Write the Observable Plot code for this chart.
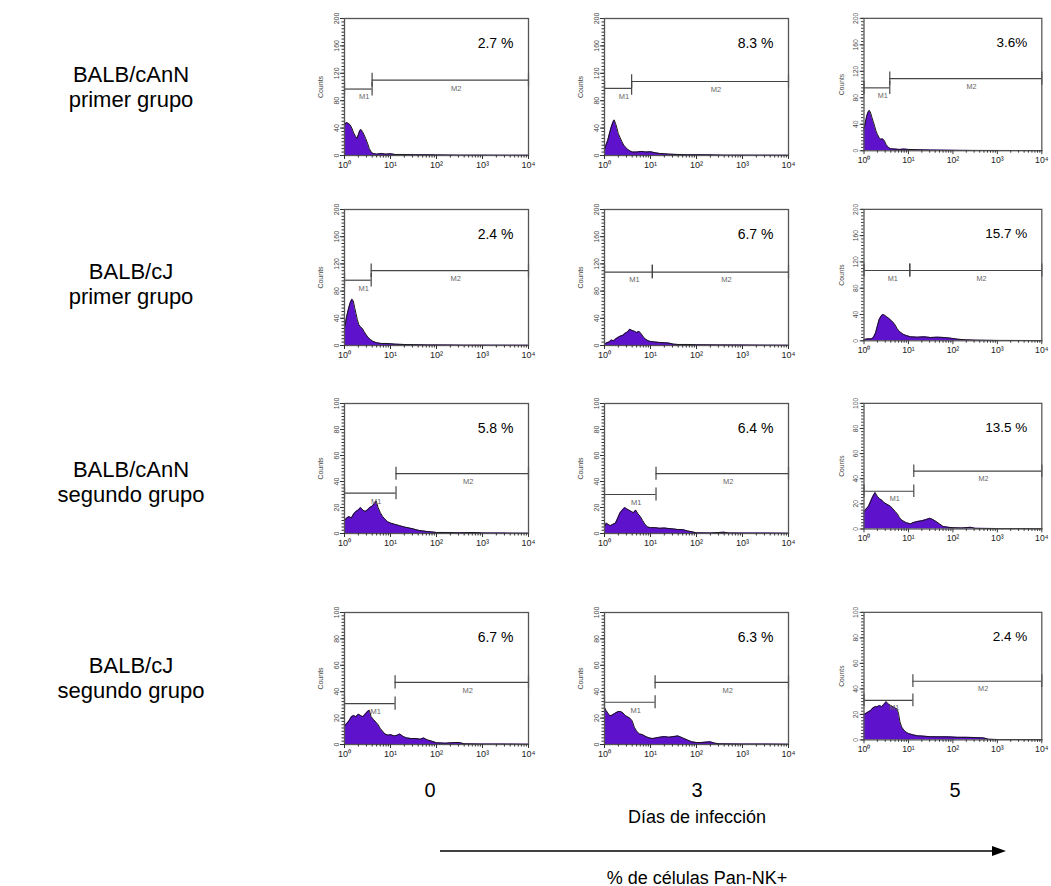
<!DOCTYPE html>
<html><head><meta charset="utf-8">
<script src="https://cdn.jsdelivr.net/npm/d3@7"></script>
<script src="https://cdn.jsdelivr.net/npm/@observablehq/plot@0.6"></script>
<style>
body{margin:0;background:#fff;font-family:Arial,"Liberation Sans",sans-serif;}
#fig{position:relative;width:1051px;height:886px;overflow:hidden;background:#fff;}
.lab{position:absolute;text-align:center;color:#000;white-space:nowrap;transform:translate(-50%,-50%);}
.panel{position:absolute;}
</style></head><body><div id="fig"></div>
<script>
// ---------- data ----------
const rowLabels = [["BALB/cAnN","primer grupo"],["BALB/cJ","primer grupo"],["BALB/cAnN","segundo grupo"],["BALB/cJ","segundo grupo"]];
const dayLabels = ["0","3","5"];
const xAxisTitle = "Días de infección";
const arrowTitle = "% de células Pan-NK+";
const yMax = [200,200,100,100];
const yTicks = [[0,40,80,120,160,200],[0,40,80,120,160,200],[0,20,40,60,80,100],[0,20,40,60,80,100]];
const xTickDecades = [0,1,2,3,4];
const xTickLabels = ["10⁰","10¹","10²","10³","10⁴"];
const yLabel = "Counts";
const percents = [["2.7 %","8.3 %","3.6%"],["2.4 %","6.7 %","15.7 %"],["5.8 %","6.4 %","13.5 %"],["6.7 %","6.3 %","2.4 %"]];
const gateSplit = [[0.60,0.59,0.58],[0.58,1.04,1.03],[1.12,1.12,1.12],[1.10,1.10,1.10]];
const gateM1Y = [[97,98,95],[96,108,107],[31,30,30],[31,32,31]];
const gateM2Y = [[110,108,109],[110,108,107],[46,46,46],[47,47,46]];

// histograms: [log10 fluorescence, counts]
const hist_r1c1 = [[0,44],[0.04,48],[0.08,47],[0.12,45],[0.16,40],[0.2,33],[0.24,28],[0.27,25],[0.3,30],[0.33,36],[0.36,38],[0.39,35],[0.42,31],[0.46,25],[0.5,18],[0.54,10],[0.58,5],[0.62,3],[0.7,2],[0.8,3],[0.9,2],[1,2.5],[1.1,1.5],[1.3,1.5],[1.5,1],[1.8,1],[2,0.8],[2.5,0.5],[3,0.5],[3.5,0.3],[4,0.3]];
const hist_r1c2 = [[0,8],[0.03,15],[0.07,22],[0.1,30],[0.14,40],[0.18,48],[0.21,52],[0.24,47],[0.27,40],[0.3,32],[0.34,26],[0.38,20],[0.42,15],[0.46,12],[0.5,9],[0.55,7],[0.6,5],[0.7,5],[0.8,6],[0.9,5],[1,5.5],[1.1,4],[1.2,3],[1.3,2.5],[1.4,2],[1.6,1.5],[1.8,1],[2.2,1],[2.6,0.5],[3,0.5],[3.5,0.4],[4,0.3]];
const hist_r1c3 = [[0,33],[0.03,42],[0.06,52],[0.09,58],[0.12,61],[0.15,57],[0.18,50],[0.21,44],[0.24,37],[0.27,30],[0.3,25],[0.34,20],[0.38,17],[0.42,18],[0.46,15],[0.5,9],[0.55,5],[0.6,3],[0.7,2.5],[0.8,2],[0.9,2.5],[1,2],[1.2,1.5],[1.5,1],[2,0.6],[2.5,0.5],[3,0.4],[4,0.3]];
const hist_r2c1 = [[0,25],[0.04,40],[0.08,52],[0.12,62],[0.16,68],[0.19,66],[0.22,56],[0.25,47],[0.28,38],[0.31,31],[0.35,27],[0.39,25],[0.43,20],[0.47,16],[0.51,12],[0.56,9],[0.62,6],[0.7,4],[0.8,3],[0.9,3],[1,2.5],[1.1,2],[1.3,1.5],[1.5,1.2],[1.8,0.8],[2.2,0.7],[2.6,0.5],[3,0.5],[3.5,0.4],[4,0.3]];
const hist_r2c2 = [[0,2],[0.05,4],[0.1,5],[0.15,8],[0.2,7],[0.25,10],[0.3,12],[0.35,14],[0.4,15],[0.45,18],[0.5,20],[0.55,24],[0.6,22],[0.65,21],[0.7,19],[0.75,21],[0.8,17],[0.85,12],[0.9,9],[0.95,7],[1,6],[1.1,5],[1.2,4.5],[1.3,4],[1.4,3.5],[1.5,2],[1.6,1.5],[1.8,1.5],[2,1],[2.5,0.8],[3,0.6],[3.5,0.5],[4,0.3]];
const hist_r2c3 = [[0,2],[0.1,3],[0.18,3],[0.22,6],[0.26,12],[0.3,22],[0.34,32],[0.38,37],[0.42,40],[0.46,39],[0.5,37],[0.54,35],[0.58,33],[0.62,30],[0.66,28],[0.7,24],[0.75,18],[0.8,14],[0.88,10],[0.95,8],[1.05,6],[1.2,5.5],[1.35,6],[1.5,5],[1.65,5.5],[1.8,5],[1.95,4],[2.1,2.5],[2.25,1.5],[2.5,1],[3,0.6],[3.5,0.5],[4,0.3]];
const hist_r3c1 = [[0,10],[0.05,12],[0.1,13],[0.15,12],[0.2,15],[0.25,17],[0.3,18],[0.35,20],[0.4,18],[0.45,17],[0.5,18],[0.55,20],[0.6,21],[0.65,23],[0.69,25],[0.73,20],[0.78,16],[0.83,13],[0.88,11],[0.94,9],[1,8],[1.1,7],[1.2,6],[1.3,5],[1.4,4.3],[1.5,3.5],[1.6,2.5],[1.7,2],[1.8,1.5],[1.9,1.2],[2,0.8],[2.2,0.8],[2.5,0.5],[2.8,0.8],[3,0.4],[3.5,0.3],[4,0.2]];
const hist_r3c2 = [[0,5],[0.04,8],[0.08,7],[0.13,6],[0.18,7],[0.24,8],[0.29,12],[0.34,16],[0.39,18],[0.44,20],[0.48,19],[0.53,18],[0.58,17],[0.63,16],[0.68,18],[0.73,15],[0.78,13],[0.83,10],[0.88,7],[0.94,5],[1,4.5],[1.1,4.5],[1.2,4],[1.3,4.2],[1.4,3.8],[1.5,3.5],[1.6,3],[1.7,3],[1.8,2],[1.9,1.3],[2,0.5],[2.3,0.4],[2.6,1],[2.7,0.4],[3,0.3],[3.5,0.3],[4,0.2]];
const hist_r3c3 = [[0,14],[0.05,16],[0.1,18],[0.15,22],[0.2,26],[0.25,29],[0.3,26],[0.35,24],[0.4,23],[0.45,21],[0.5,20],[0.55,19],[0.6,18],[0.65,16],[0.7,14],[0.75,12],[0.8,9],[0.85,7],[0.9,6],[0.95,5],[1,4.5],[1.05,4],[1.1,5],[1.2,6],[1.3,6.5],[1.4,7.5],[1.48,8.5],[1.55,7.5],[1.62,6],[1.7,4],[1.78,2],[1.9,1.3],[2,1],[2.2,0.8],[2.4,1.3],[2.5,0.5],[3,0.3],[3.5,0.3],[4,0.2]];
const hist_r4c1 = [[0,14],[0.05,16],[0.1,18],[0.15,21],[0.2,22],[0.25,21],[0.3,23],[0.35,22],[0.4,21],[0.45,23],[0.5,25],[0.54,26],[0.58,21],[0.63,19],[0.68,17],[0.73,15],[0.78,12],[0.83,10],[0.88,8],[0.95,7],[1,7.5],[1.08,6.5],[1.15,7],[1.2,8],[1.28,6],[1.35,5],[1.45,4.5],[1.55,4.5],[1.65,4],[1.72,5],[1.8,3.5],[1.9,2.5],[2,1.3],[2.2,1],[2.4,1.5],[2.5,1.5],[2.6,0.5],[3,0.3],[3.5,0.3],[4,0.2]];
const hist_r4c2 = [[0,28],[0.03,26],[0.07,24],[0.11,22],[0.15,22],[0.2,23],[0.25,24],[0.3,25],[0.35,25],[0.4,24],[0.45,22],[0.5,21],[0.55,20],[0.6,18],[0.65,13],[0.7,10],[0.76,8],[0.82,7.5],[0.9,6],[0.97,5],[1.05,4.5],[1.12,5],[1.2,5.5],[1.3,6],[1.4,5.5],[1.5,6],[1.6,6.5],[1.7,5],[1.8,3.5],[1.9,2],[2,1.5],[2.1,1.5],[2.3,2],[2.4,1],[2.5,0.5],[3,0.3],[3.5,0.3],[4,0.2]];
const hist_r4c3 = [[0,20],[0.05,21],[0.1,22],[0.15,23],[0.2,25],[0.25,26],[0.3,26],[0.35,27],[0.4,26],[0.45,28],[0.5,30],[0.55,28],[0.6,27],[0.65,26],[0.7,25],[0.75,24],[0.78,20],[0.81,14],[0.85,10],[0.9,7.5],[0.95,6],[1,5],[1.1,4],[1.2,3.2],[1.3,3],[1.5,2.5],[1.7,2.4],[1.9,2.4],[2.1,2],[2.3,2],[2.5,1.8],[2.7,1.5],[2.8,0.5],[3,0.3],[3.5,0.3],[4,0.2]];
const hists = [[hist_r1c1,hist_r1c2,hist_r1c3],[hist_r2c1,hist_r2c2,hist_r2c3],[hist_r3c1,hist_r3c2,hist_r3c3],[hist_r4c1,hist_r4c2,hist_r4c3]];

// ---------- layout ----------
const colLeft = [344, 604, 865];
const rowTop = [18, 209, 403, 612];
const frameW = 184;
const frameH = [137, 136, 130, 132];
const ML = 44, MR = 10, MT = 4, MB = 24;
const fig = document.getElementById("fig");

const minorX = [];
for (let n = 0; n < 4; n++) for (let k = 2; k <= 9; k++) minorX.push(n + Math.log10(k));

function panel(r, c) {
  const ymax = yMax[r];
  const data = hists[r][c].map(([d, n]) => ({d, n}));
  const s = gateSplit[r][c], g1 = gateM1Y[r][c], g2 = gateM2Y[r][c];
  const th = ymax * 0.05;
  const gates = [{x1: 0, x2: s, y: g1, name: "M1"}, {x1: s, x2: 4, y: g2, name: "M2"}];
  const gateTicks = [{x: 0, y: g1}, {x: s, y: g1}, {x: s, y: g2}, {x: 4, y: g2}];
  const minorY = d3.range(0, ymax + 1e-6, ymax / 40);
  const W = frameW + ML + MR, H = frameH[r] + MT + MB;
  return Plot.plot({
    width: W, height: H, marginLeft: ML, marginRight: MR, marginTop: MT, marginBottom: MB,
    x: {domain: [0, 4]}, y: {domain: [0, ymax]},
    style: {fontFamily: "Arial, 'Liberation Sans', sans-serif", background: "transparent", overflow: "visible"},
    marks: [
      Plot.areaY(data, {x: "d", y: "n", fill: "#5e12cc"}),
      Plot.lineY(data, {x: "d", y: "n", stroke: "#151515", strokeWidth: 1}),
      Plot.ruleY(gates, {x1: "x1", x2: "x2", y: "y", stroke: "#444", strokeWidth: 1.2}),
      Plot.ruleX(gateTicks, {x: "x", y1: d => d.y - th, y2: d => d.y + th, stroke: "#444", strokeWidth: 1.2}),
      Plot.text(gates, {x: d => (d.x1 + d.x2) / 2 + 0.13, y: "y", text: "name", dy: 8, fontSize: 7.5, fill: "#666"}),
      Plot.text([percents[r][c]], {frameAnchor: "top-right", dx: -15, dy: 20, text: d => d, fontSize: 14, fill: "#000", textAnchor: "end"}),
      Plot.frame({stroke: "#555", strokeWidth: 1.3}),
      Plot.axisX({ticks: xTickDecades, tickFormat: d => xTickLabels[xTickDecades.indexOf(d)], tickSize: 4, tickPadding: 2, fontSize: 9, fill: "#222", stroke: "#333", label: null}),
      Plot.axisX({ticks: minorX, tickFormat: () => "", tickSize: 2.5, stroke: "#333", label: null}),
      Plot.axisY({ticks: yTicks[r], tickRotate: -90, tickSize: 4, tickPadding: 2, fontSize: 7, fill: "#444", stroke: "#333", label: yLabel, labelArrow: "none", labelAnchor: "center", labelOffset: 26}),
      Plot.axisY({ticks: minorY, tickFormat: () => "", tickSize: 2.5, stroke: "#333", label: null})
    ]
  });
}

for (let r = 0; r < 4; r++) {
  for (let c = 0; c < 3; c++) {
    const svg = panel(r, c);
    const wrap = document.createElement("div");
    wrap.className = "panel";
    wrap.style.left = (colLeft[c] - ML) + "px";
    wrap.style.top = (rowTop[r] - MT) + "px";
    wrap.appendChild(svg);
    fig.appendChild(wrap);
  }
}

// row labels
const rowLabelY = [87, 284, 482, 678];
rowLabels.forEach((lines, r) => {
  const d = document.createElement("div");
  d.className = "lab";
  d.style.left = "131px"; d.style.top = rowLabelY[r] + "px";
  d.style.fontSize = "22px"; d.style.lineHeight = "25px";
  d.innerHTML = lines.join("<br>");
  fig.appendChild(d);
});
// day labels
const dayX = [430, 697, 955];
dayLabels.forEach((t, i) => {
  const d = document.createElement("div");
  d.className = "lab"; d.textContent = t;
  d.style.left = dayX[i] + "px"; d.style.top = "790px"; d.style.fontSize = "20px";
  fig.appendChild(d);
});
const t1 = document.createElement("div");
t1.className = "lab"; t1.textContent = xAxisTitle;
t1.style.left = "697px"; t1.style.top = "817px"; t1.style.fontSize = "18px";
fig.appendChild(t1);
const t2 = document.createElement("div");
t2.className = "lab"; t2.textContent = arrowTitle;
t2.style.left = "697px"; t2.style.top = "878px"; t2.style.fontSize = "18px";
fig.appendChild(t2);
// arrow
const ns = "http://www.w3.org/2000/svg";
const asvg = document.createElementNS(ns, "svg");
asvg.setAttribute("width", 1051); asvg.setAttribute("height", 886);
asvg.style.position = "absolute"; asvg.style.left = "0"; asvg.style.top = "0"; asvg.style.pointerEvents = "none";
asvg.innerHTML = '<line x1="440" y1="851" x2="995" y2="851" stroke="#000" stroke-width="1.6"/><path d="M1006,851 L992,846 L992,856 Z" fill="#000"/>';
fig.appendChild(asvg);
</script></body></html>
